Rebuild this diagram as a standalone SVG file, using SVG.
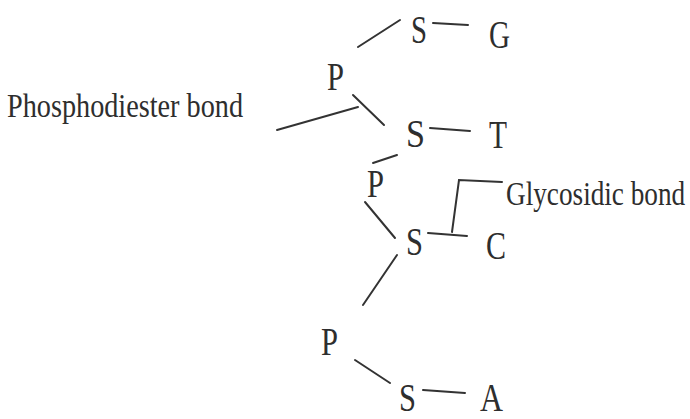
<svg xmlns="http://www.w3.org/2000/svg" width="690" height="419" viewBox="0 0 690 419">
<style>
text{font-family:"Liberation Serif","Times New Roman",serif;fill:#2e2e2e}
.n{font-size:41px}
.l{font-size:33px}
.c{stroke:#333;stroke-width:2;fill:none;stroke-linecap:round}
</style>
<rect width="690" height="419" fill="#fff"/>
<g id="connectors" class="c">
<line x1="358" y1="47" x2="400" y2="20"/>
<line x1="433" y1="23" x2="468" y2="25"/>
<line x1="353" y1="95" x2="384" y2="125"/>
<line x1="277" y1="130" x2="358" y2="107"/>
<line x1="430" y1="128" x2="470" y2="131"/>
<line x1="373" y1="163" x2="397" y2="155"/>
<line x1="365" y1="202" x2="395" y2="238"/>
<line x1="428" y1="233" x2="467" y2="236"/>
<polyline points="452,232 459,180 502,182"/>
<line x1="397" y1="255" x2="363" y2="305"/>
<line x1="355" y1="360" x2="390" y2="383"/>
<line x1="423" y1="390" x2="465" y2="393"/>
</g>
<g id="S1"><text class="n" x="411" y="43" textLength="16" lengthAdjust="spacingAndGlyphs">S</text></g>
<g id="G"><text class="n" x="489" y="48" textLength="21" lengthAdjust="spacingAndGlyphs">G</text></g>
<g id="P1"><text class="n" x="327" y="90" textLength="17" lengthAdjust="spacingAndGlyphs">P</text></g>
<g id="S2"><text class="n" x="406" y="147" textLength="19" lengthAdjust="spacingAndGlyphs">S</text></g>
<g id="T"><text class="n" x="489" y="148" textLength="18" lengthAdjust="spacingAndGlyphs">T</text></g>
<g id="P2"><text class="n" x="367" y="197" textLength="17" lengthAdjust="spacingAndGlyphs">P</text></g>
<g id="S3"><text class="n" x="406" y="255" textLength="17" lengthAdjust="spacingAndGlyphs">S</text></g>
<g id="C"><text class="n" x="486" y="259" textLength="20" lengthAdjust="spacingAndGlyphs">C</text></g>
<g id="P3"><text class="n" x="321" y="355" textLength="17" lengthAdjust="spacingAndGlyphs">P</text></g>
<g id="S4"><text class="n" x="399" y="411" textLength="17" lengthAdjust="spacingAndGlyphs">S</text></g>
<g id="A"><text class="n" x="480" y="411" textLength="23" lengthAdjust="spacingAndGlyphs">A</text></g>
<g id="phosphodiester-label"><text class="l" x="7" y="117" textLength="236" lengthAdjust="spacingAndGlyphs">Phosphodiester bond</text></g>
<g id="glycosidic-label" transform="translate(506,205) scale(0.825,1)"><text class="l" x="0" y="0">Glycosidic bond</text></g>
</svg>
